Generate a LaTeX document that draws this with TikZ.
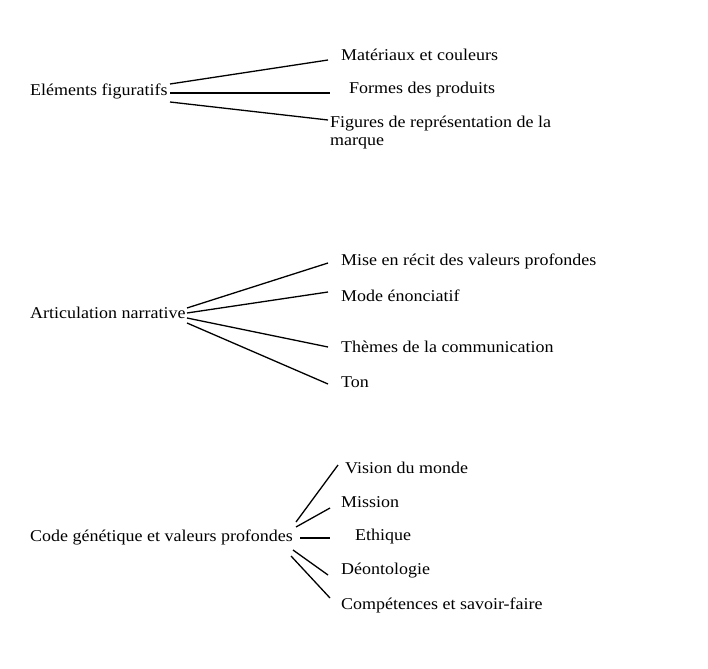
\documentclass[tikz,border=0pt]{standalone}
\usepackage{fontspec}
\setmainfont{Liberation Serif}
\begin{document}
\begin{tikzpicture}[x=1pt,y=-1pt,
  lab/.style={anchor=west,inner sep=0pt,font=\fontsize{16.5}{18}\selectfont,align=left,xscale=1.09},
  ln/.style={line width=1.3pt}]
\useasboundingbox (0,0) rectangle (708,668);
% group 1
\node[lab] (g1) at (30,91) {Eléments figuratifs};
\node[lab] (a1) at (341,55) {Matériaux et couleurs};
\node[lab] (a2) at (349,90) {Formes des produits};
\node[lab,anchor=north west] (a3) at (330,116) {Figures de représentation de la\\marque};
\coordinate (s11) at (170,84); \coordinate (e11) at (328,60);
\coordinate (s12) at (170,93); \coordinate (e12) at (330,93);
\coordinate (s13) at (170,102); \coordinate (e13) at (328,120);
\draw[ln] (s11)--(e11); \draw[ln] (s12)--(e12); \draw[ln] (s13)--(e13);
% group 2
\node[lab] (g2) at (30,313) {Articulation narrative};
\node[lab] (b1) at (341,261) {Mise en récit des valeurs profondes};
\node[lab] (b2) at (341,296) {Mode énonciatif};
\node[lab] (b3) at (341,347) {Thèmes de la communication};
\node[lab] (b4) at (341,382) {Ton};
\coordinate (s21) at (187,308); \coordinate (e21) at (328,263);
\coordinate (s22) at (187,313); \coordinate (e22) at (328,292);
\coordinate (s23) at (187,318); \coordinate (e23) at (328,347);
\coordinate (s24) at (187,323); \coordinate (e24) at (328,384);
\draw[ln] (s21)--(e21); \draw[ln] (s22)--(e22); \draw[ln] (s23)--(e23); \draw[ln] (s24)--(e24);
% group 3
\node[lab] (g3) at (30,537) {Code génétique et valeurs profondes};
\node[lab] (c1) at (345,468) {Vision du monde};
\node[lab] (c2) at (341,502) {Mission};
\node[lab] (c3) at (355,537) {Ethique};
\node[lab] (c4) at (341,571) {Déontologie};
\node[lab] (c5) at (341,605) {Compétences et savoir-faire};
\coordinate (s31) at (296,522); \coordinate (e31) at (338,465);
\coordinate (s32) at (296,527); \coordinate (e32) at (330,508);
\coordinate (s33) at (300,538); \coordinate (e33) at (330,538);
\coordinate (s34) at (293,550); \coordinate (e34) at (328,575);
\coordinate (s35) at (291,556); \coordinate (e35) at (330,598);
\draw[ln] (s31)--(e31); \draw[ln] (s32)--(e32); \draw[ln] (s33)--(e33); \draw[ln] (s34)--(e34); \draw[ln] (s35)--(e35);
\end{tikzpicture}
\end{document}
